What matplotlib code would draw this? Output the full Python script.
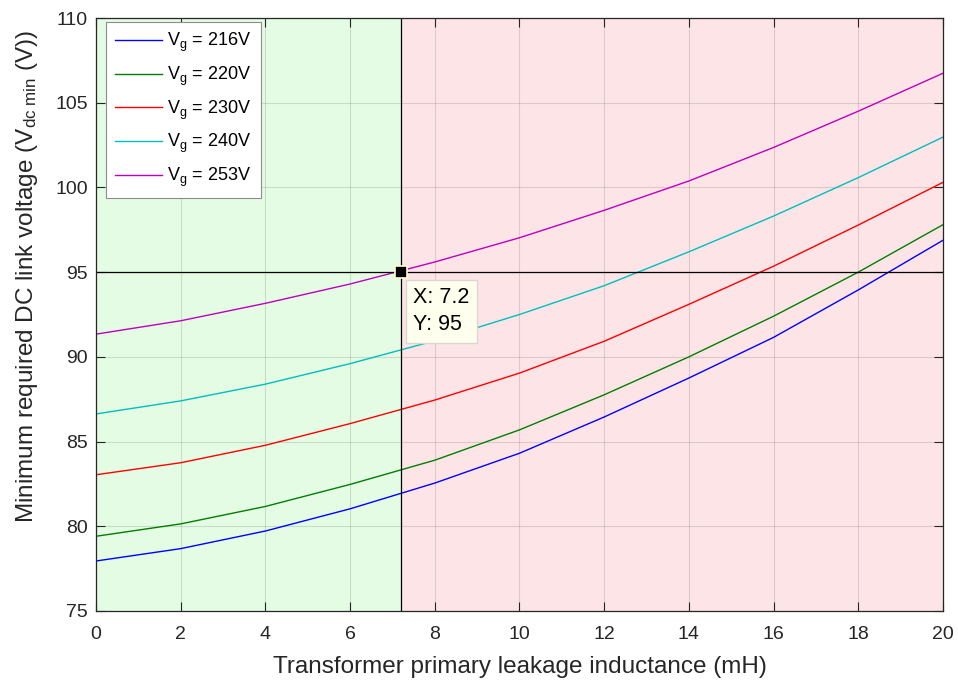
import numpy as np
import matplotlib
matplotlib.use('Agg')
import matplotlib.pyplot as plt

plt.rcParams['font.family'] = ['Liberation Sans', 'DejaVu Sans']
plt.rcParams['mathtext.fontset'] = 'custom'
plt.rcParams['mathtext.rm'] = 'Liberation Sans'
plt.rcParams['mathtext.it'] = 'Liberation Sans'

# Leakage inductance (mH)
inductance = [0, 2, 4, 6, 8, 10, 12, 14, 16, 18, 20]

# Minimum required DC link voltage (V) for each grid voltage
v_216 = [77.95, 78.68, 79.72, 81.03, 82.55, 84.31, 86.45, 88.75, 91.15, 93.95, 96.88]
v_220 = [79.41, 80.14, 81.17, 82.47, 83.90, 85.69, 87.76, 90.00, 92.40, 95.00, 97.80]
v_230 = [83.04, 83.75, 84.78, 86.06, 87.45, 89.04, 90.92, 93.10, 95.35, 97.78, 100.30]
v_240 = [86.63, 87.40, 88.39, 89.60, 90.95, 92.50, 94.20, 96.20, 98.31, 100.58, 102.97]
v_253 = [91.34, 92.13, 93.16, 94.30, 95.60, 97.03, 98.65, 100.38, 102.36, 104.50, 106.74]

series = [v_216, v_220, v_230, v_240, v_253]
labels = ['216V', '220V', '230V', '240V', '253V']
colors = ['#0000ff', '#007f00', '#ff0000', '#00bfbf', '#bf00bf']

# Data tip / limits
limit_x = 7.2
limit_y = 95

fig = plt.figure(figsize=(9.58, 6.8), dpi=100)
ax = fig.add_axes([0.1002, 0.1015, 0.8841, 0.872])

ax.axvspan(0, limit_x, color='#e3fce3', zorder=0, lw=0)
ax.axvspan(limit_x, 20, color='#fde4e6', zorder=0, lw=0)

for vals, lab, col in zip(series, labels, colors):
    ax.plot(inductance, vals, color=col, lw=1.0, label=r'V$_{\mathregular{g}}$ = ' + lab)

ax.axhline(limit_y, color='black', lw=0.9)
ax.axvline(limit_x, color='black', lw=0.9)

ax.plot([limit_x], [limit_y], marker='s', ms=8, color='black',
        markeredgecolor='#ffffcc', markeredgewidth=1.2, zorder=5)
ax.annotate('X: 7.2\nY: 95', xy=(limit_x, limit_y), xytext=(9, -11),
            textcoords='offset points', ha='left', va='top', fontsize=15.5,
            linespacing=1.35,
            bbox=dict(boxstyle='square,pad=0.35', fc='#ffffee', ec='#d8d8d0', lw=1),
            zorder=6)

ax.set_xlim(0, 20)
ax.set_ylim(75, 110)
ax.set_xticks(np.arange(0, 21, 2))
ax.set_yticks(np.arange(75, 111, 5))
ax.set_axisbelow(True)
ax.grid(True, color='black', alpha=0.12, lw=0.8)
ax.tick_params(direction='in', top=True, right=True, length=6.5, width=0.8,
               labelsize=14, colors='#262626')
ax.tick_params(axis='x', pad=11)
ax.tick_params(axis='y', pad=6)
for s in ax.spines.values():
    s.set_color('#262626')
    s.set_linewidth(0.9)

ax.set_xlabel('Transformer primary leakage inductance (mH)', fontsize=17.5,
              color='#262626', labelpad=9)
ax.set_ylabel(r'Minimum required DC link voltage (V$_{\mathregular{dc\ min}}$ (V))',
              fontsize=17.5, color='#262626')
ax.yaxis.set_label_coords(-0.066, 0.565)

leg = ax.legend(loc='upper left', bbox_to_anchor=(10 / 847, 1 - 4 / 593),
                borderaxespad=0, fontsize=13, fancybox=False, framealpha=1,
                edgecolor='#8c8c8c', handlelength=2.6, handletextpad=0.3,
                borderpad=0.5, labelspacing=0.58)
leg.get_frame().set_linewidth(0.8)

fig.savefig('out.png', dpi=100)
